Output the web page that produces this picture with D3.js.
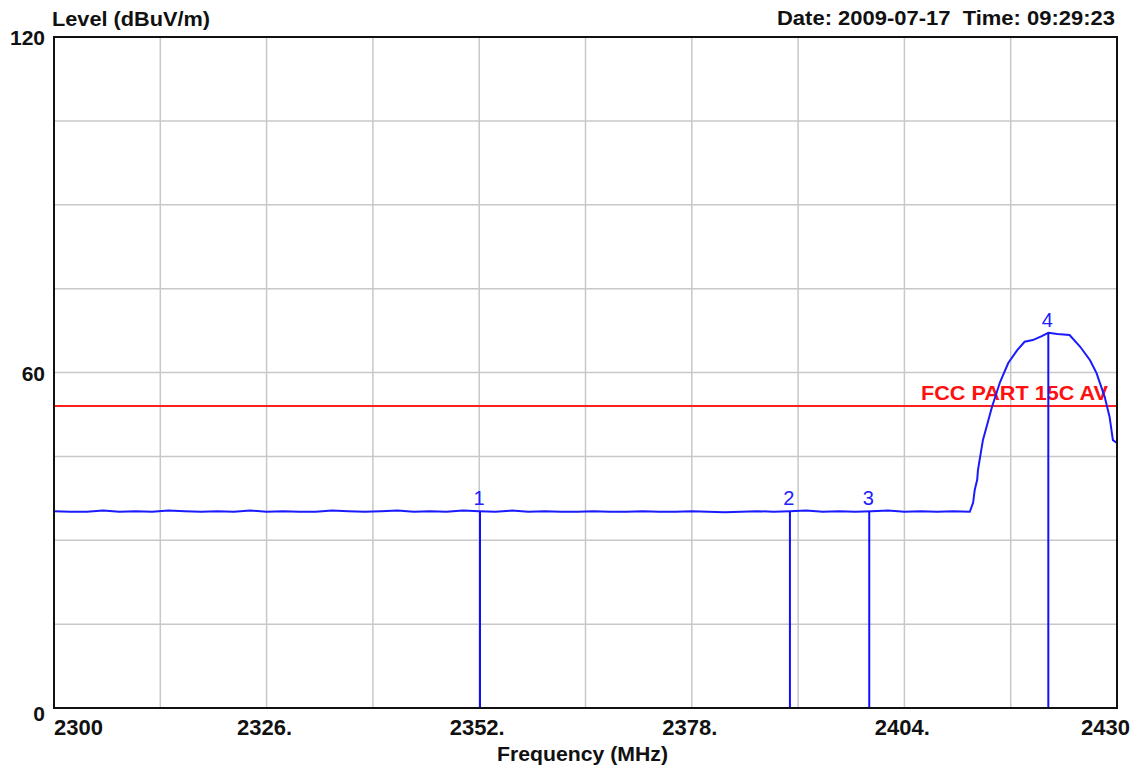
<!DOCTYPE html>
<html><head><meta charset="utf-8">
<script src="https://cdn.jsdelivr.net/npm/d3@7"></script>
<style>body{margin:0;background:#fff}svg{display:block}text{font-family:"Liberation Sans",Arial,sans-serif;white-space:pre}</style>
</head><body>
<svg id="c" width="1137" height="769"></svg>
<script>
const xTicks = [2300, 2313, 2326, 2339, 2352, 2365, 2378, 2391, 2404, 2417, 2430];
const xLabels = ["2300", "", "2326.", "", "2352.", "", "2378.", "", "2404.", "", "2430"];
const yTicks = [0, 15, 30, 45, 60, 75, 90, 105, 120];
const yLabels = ["0", "", "", "", "60", "", "", "", "120"];
const traceFreq = [2300,2302,2304,2306,2308,2310,2312,2314,2316,2318,2320,2322,2324,2326,2328,2330,2332,2334,2336,2338,2340,2342,2344,2346,2348,2350,2352,2354,2356,2358,2360,2362,2364,2366,2368,2370,2372,2374,2376,2378,2380,2382,2384,2386,2388,2390,2392,2394,2396,2398,2400,2402,2404,2406,2408,2410,2412.0,2412.4,2412.6,2412.9,2413.0,2413.6,2414.7,2415.7,2416.7,2417.8,2418.7,2419.7,2420.8,2421.6,2422.7,2424.2,2425.5,2426.7,2427.5,2428.5,2429.1,2429.5,2430];
const traceLevel = [35.2,35.1,35.1,35.3,35.1,35.2,35.1,35.3,35.2,35.1,35.2,35.1,35.3,35.1,35.2,35.1,35.1,35.3,35.2,35.1,35.2,35.3,35.1,35.2,35.1,35.3,35.2,35.1,35.3,35.1,35.2,35.1,35.1,35.2,35.1,35.1,35.2,35.1,35.1,35.2,35.1,35.0,35.1,35.2,35.1,35.2,35.3,35.1,35.2,35.1,35.2,35.3,35.1,35.2,35.1,35.2,35.1,36.7,39.0,40.8,42.6,47.9,53.8,58.3,61.7,64.0,65.5,65.8,66.5,67.1,66.9,66.7,64.6,62.2,59.9,55.6,52.0,47.9,47.4];
const markerNames = ["1", "2", "3", "4"];
const markerFreq = [2352.1, 2390.0, 2399.7, 2421.6];
const markerLevel = [35.2, 35.2, 35.2, 67.1];
const limitName = "FCC PART 15C AV";
const limitLevel = 54.0;
const titleText = "Level (dBuV/m)";
const dateText = "Date: 2009-07-17  Time: 09:29:23";
const xTitle = "Frequency (MHz)";

const svg = d3.select("#c");
const L = 54, R = 1117, T = 37, B = 708;
const x = d3.scaleLinear().domain([2300, 2430]).range([L, R]);
const y = d3.scaleLinear().domain([0, 120]).range([B, T]);

// grid
svg.append("g").selectAll("line").data(xTicks.slice(1, -1)).join("line")
  .attr("x1", d => x(d)).attr("x2", d => x(d)).attr("y1", T).attr("y2", B)
  .attr("stroke", "#c8c8c8").attr("stroke-width", 1.5);
svg.append("g").selectAll("line").data(yTicks.slice(1, -1)).join("line")
  .attr("x1", L).attr("x2", R).attr("y1", d => y(d)).attr("y2", d => y(d))
  .attr("stroke", "#c8c8c8").attr("stroke-width", 1.5);

// limit line
svg.append("line").attr("x1", L).attr("x2", R).attr("y1", y(limitLevel)).attr("y2", y(limitLevel))
  .attr("stroke", "#ff2020").attr("stroke-width", 2);
svg.append("text").attr("x", 921).attr("y", y(limitLevel) - 6)
  .attr("fill", "#ff1010").attr("font-weight", "bold").attr("font-size", 20)
  .attr("textLength", 187).attr("lengthAdjust", "spacingAndGlyphs").text(limitName);

// trace
const pts = traceFreq.map((f, i) => [f, traceLevel[i]]);
svg.append("path").datum(pts)
  .attr("d", d3.line().x(d => x(d[0])).y(d => y(d[1])))
  .attr("fill", "none").attr("stroke", "#1a1aff").attr("stroke-width", 2);

// markers
const mg = svg.append("g");
markerFreq.forEach((f, i) => {
  mg.append("line").attr("x1", x(f)).attr("x2", x(f)).attr("y1", y(markerLevel[i])).attr("y2", B)
    .attr("stroke", "#1010ff").attr("stroke-width", 2);
  mg.append("text").attr("x", x(f) - 1).attr("y", y(markerLevel[i]) - 6)
    .attr("text-anchor", "middle").attr("fill", "#2020ff").attr("font-size", 20).text(markerNames[i]);
});

// border
svg.append("rect").attr("x", L).attr("y", T).attr("width", R - L).attr("height", B - T)
  .attr("fill", "none").attr("stroke", "#111").attr("stroke-width", 2);

// y labels
svg.append("g").selectAll("text").data(yTicks.map((d, i) => [d, yLabels[i]]).filter(d => d[1]))
  .join("text").attr("x", 45).attr("y", d => y(d[0]) + 8 + (d[0] === 0 ? 5 : 0))
  .attr("text-anchor", "end").attr("font-weight", "bold").attr("font-size", 21).attr("fill", "#111")
  .text(d => d[1]);

// x labels
svg.append("g").selectAll("text").data(xTicks.map((d, i) => [d, xLabels[i], i]).filter(d => d[1]))
  .join("text")
  .attr("x", d => d[2] === 0 ? L : d[2] === xTicks.length - 1 ? R + 13 : x(d[0]) - 2)
  .attr("y", 735)
  .attr("text-anchor", d => d[2] === 0 ? "start" : d[2] === xTicks.length - 1 ? "end" : "middle")
  .attr("font-weight", "bold").attr("font-size", 22).attr("fill", "#111")
  .text(d => d[1]);

// titles
svg.append("text").attr("x", 52).attr("y", 26).attr("font-weight", "bold").attr("font-size", 20)
  .attr("fill", "#111").attr("textLength", 158).attr("lengthAdjust", "spacingAndGlyphs").text(titleText);
svg.append("text").attr("x", 777).attr("y", 25).attr("font-weight", "bold").attr("font-size", 20)
  .attr("fill", "#111").attr("textLength", 338).attr("lengthAdjust", "spacingAndGlyphs").text(dateText);
svg.append("text").attr("x", 497).attr("y", 761).attr("font-weight", "bold").attr("font-size", 21)
  .attr("fill", "#111").attr("textLength", 171).attr("lengthAdjust", "spacingAndGlyphs").text(xTitle);
</script>
</body></html>
